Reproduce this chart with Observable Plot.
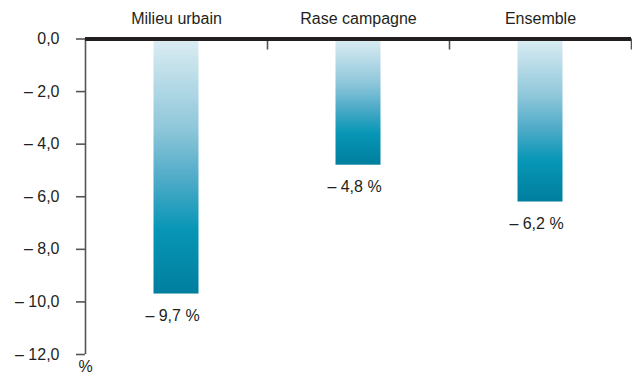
<!DOCTYPE html>
<html>
<head>
<meta charset="utf-8">
<script src="https://cdn.jsdelivr.net/npm/d3@7"></script>
<script src="https://cdn.jsdelivr.net/npm/@observablehq/plot@0.6"></script>
<style>
  html, body { margin: 0; padding: 0; background: #fff; }
  #chart svg { display: block; }
</style>
</head>
<body>
<div id="chart"></div>
<script>
const categories = ["Milieu urbain", "Rase campagne", "Ensemble"];
const values = [-9.7, -4.8, -6.2];
const yTicks = [0, -2, -4, -6, -8, -10, -12];
const unitLabel = "%";

const data = categories.map((c, i) => ({category: c, value: values[i]}));
const fmtNum = (v, digits) => (v < 0 ? "\u2013 " : "") + Math.abs(v).toFixed(digits).replace(".", ",");

const W = 632, H = 382;
const mL = 85, mR = 1, mT = 38.5, mB = 28;
const bandwidth = (W - mL - mR) / categories.length;
const barWidth = 45;
const inset = (bandwidth - barWidth) / 2;
const ink = "#231f20";
const font = "'Liberation Sans', Arial, sans-serif";

const defs = () => {
  const g = d3.create("svg:defs");
  const lg = g.append("linearGradient").attr("id", "barGrad")
    .attr("x1", 0).attr("y1", 0).attr("x2", 0).attr("y2", 1);
  [[0, "#dcedf3"], [0.35, "#8fc7da"], [0.55, "#4fabc8"], [0.75, "#0796b6"], [1, "#007e9e"]]
    .forEach(([o, c]) => lg.append("stop").attr("offset", o).attr("stop-color", c));
  return g.node();
};

const chart = Plot.plot({
  width: W,
  height: H,
  marginLeft: mL,
  marginRight: mR,
  marginTop: mT,
  marginBottom: mB,
  style: {fontFamily: font, fontSize: "16px", color: ink, background: "#fff"},
  x: {domain: categories, padding: 0, axis: null},
  y: {domain: [-12, 0], axis: null},
  marks: [
    defs,
    Plot.barY(data, {x: "category", y1: 0, y2: "value", fill: "url(#barGrad)", insetLeft: inset, insetRight: inset}),
    // y axis line
    Plot.ruleX([categories[0]], {x: d => d, dx: -bandwidth / 2, y1: 0, y2: -12, stroke: "#555", strokeWidth: 1.6}),
    // separator ticks
    Plot.ruleX(categories, {x: d => d, dx: bandwidth / 2, y1: 0, y2: -0.42, stroke: "#555", strokeWidth: 1.6}),
    Plot.axisY({ticks: yTicks, tickSize: 9, tickPadding: 17, tickFormat: d => fmtNum(d, 1), stroke: "#555", strokeWidth: 1.6, fontSize: 16, fill: ink, label: null}),
    Plot.axisX({anchor: "top", tickSize: 0, tickPadding: 15, fontSize: 16, fill: ink, label: null}),
    Plot.ruleY([0], {stroke: ink, strokeWidth: 4}),
    Plot.text(data, {x: "category", y: "value", text: d => fmtNum(d.value, 1) + " %", dy: 22, dx: -4, fill: ink, fontSize: 16}),
    Plot.text([unitLabel], {frameAnchor: "bottom-left", dy: 17, textAnchor: "middle", fill: ink, fontSize: 16})
  ]
});

document.getElementById("chart").appendChild(chart);
</script>
</body>
</html>
